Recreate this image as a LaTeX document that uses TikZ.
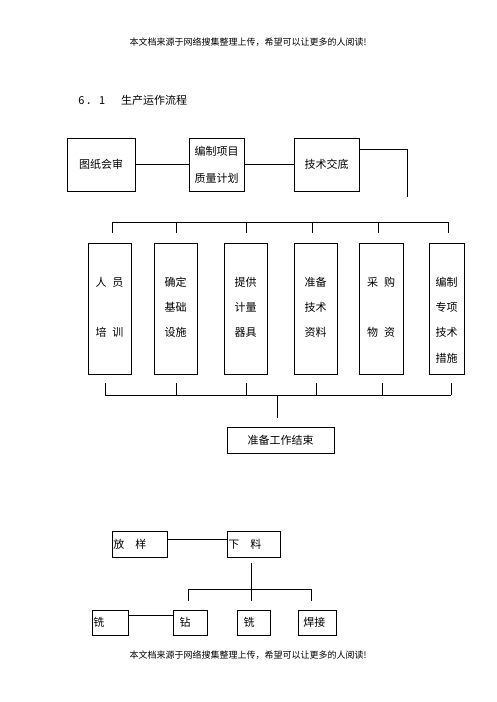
\documentclass[tikz,border=0pt]{standalone}
\usepackage{fontspec}
\newfontfamily\cjk{Noto Sans CJK SC}
\usepackage{tikz}
\usetikzlibrary{calc}

\begin{document}
\begin{tikzpicture}[x=0.75pt, y=-0.75pt, every node/.style={font=\cjk\fontsize{8.25pt}{20pt}\selectfont}, box/.style={rectangle, draw=black, line width=0.6pt}, tall/.style={box, minimum height=98.25pt, inner xsep=0pt, text width=24pt, align=center, text height=7pt, text depth=40.75pt, font=\cjk\fontsize{8.25pt}{19pt}\selectfont}, sbox/.style={box, inner xsep=1pt, text width=#1, align=left}, ln/.style={line width=0.6pt}]
\useasboundingbox (0,0) rectangle (496,702);
\node (hdr) at (248,42) [font=\cjk\fontsize{6.75pt}{8pt}\selectfont] {本文档来源于网络搜集整理上传，希望可以让更多的人阅读!};
\node (ftr) at (248,655) [font=\cjk\fontsize{6.75pt}{8pt}\selectfont] {本文档来源于网络搜集整理上传，希望可以让更多的人阅读!};
\node[anchor=west, inner sep=0pt] (ttl) at (78,100) {6\,．\,1\hspace{12pt}生产运作流程};
\node[box, minimum width=51pt, minimum height=39.75pt] (tzhs) at (101,164.5) {图纸会审};
\node[box, minimum width=41.25pt, minimum height=39.75pt, align=center] (bzjh) at (216.5,164.5) {编制项目\\质量计划};
\node[box, minimum width=48.75pt, minimum height=39.75pt] (jsjd) at (326.5,164.5) {技术交底};
\coordinate (drop) at (407,197);
\draw[ln] (tzhs) -- (bzjh); \draw[ln] (bzjh) -- (jsjd);
\draw[ln] ([yshift=11pt]jsjd.east) -| (drop);
\coordinate (tbus) at (0,222);
\coordinate (bbus) at (0,395);
\node[tall, minimum width=32.25pt] (rypx) at (109.5,308.5) {人\hspace{4.5pt}员\\\mbox{}\\培\hspace{4.5pt}训};
\node[tall, minimum width=32.25pt] (qdss) at (175.5,308.5) {确定\\基础\\设施};
\node[tall, minimum width=32.25pt] (tgjl) at (245.5,308.5) {提供\\计量\\器具};
\node[tall, minimum width=32.25pt] (zbzl) at (315.5,308.5) {准备\\技术\\资料};
\node[tall, minimum width=33pt] (cgwz) at (381,308.5) {采\hspace{4.5pt}购\\\mbox{}\\物\hspace{4.5pt}资};
\node[tall, minimum width=26.25pt] (bzcs) at (446.5,308.5) {编制\\专项\\技术\\措施};
\foreach \n/\a/\b in {rypx/2.5/-4.5, qdss/0.5/0.5, tgjl/0.5/0.5, zbzl/-3.5/0.5, cgwz/-3/1, bzcs/1.5/4.5} {
  \draw[ln] ($(\n.north)+(\a,-10)$) -- ($(\n.north |- tbus)+(\a,0)$);
  \draw[ln] ($(\n.south)+(\b,9)$) -- ($(\n.south |- bbus)+(\b,0)$);
}
\draw[ln] ($(rypx.north |- tbus)+(2.5,0)$) -- ($(bzcs.north |- tbus)+(1.5,0)$);
\draw[ln] ($(rypx.south |- bbus)+(-4.5,0)$) -- ($(bzcs.south |- bbus)+(4.5,0)$);
\node[box, minimum width=80.25pt, minimum height=19.5pt] (jsgz) at (280.5,440) {准备工作结束};
\draw[ln] ($(jsgz.north)+(-3.5,-9)$) -- ($(jsgz.north |- bbus)+(-3.5,0)$);
\node[sbox=39.25pt, minimum height=19.5pt] (fy) at (139.5,544) {放　样};
\node[sbox=37.75pt, minimum height=19.5pt] (xl) at (253.5,544) {下　料};
\draw[ln] ($(fy.east)+(0,-5)$) -- ($(xl.west)+(0,-5)$);
\coordinate (sbus) at (0,589);
\node[sbox=25pt, minimum height=18.75pt] (xa) at (110,622.5) {铣};
\node[sbox=23.5pt, minimum height=18.75pt] (zk) at (190,622.5) {\hspace{4pt}钻};
\node[sbox=22.75pt, minimum height=18.75pt] (xb) at (253.5,622.5) {\hspace{4pt}铣};
\node[sbox=26.5pt, minimum height=18.75pt] (hj) at (317,622.5) {\hspace{3pt}焊接};
\draw[ln] ($(xl.south)+(-2.5,6)$) -- ($(xl.south |- sbus)+(-2.5,0)$);
\draw[ln] ($(zk.north |- sbus)+(-2,0)$) -- ($(hj.north |- sbus)+(-6,0)$);
\foreach \n/\a in {zk/-2, xb/-2.5, hj/-6}
  \draw[ln] ($(\n.north |- sbus)+(\a,0)$) -- ($(\n.north)+(\a,-9)$);
\draw[ln] ($(xa.east)+(0,-7.5)$) -- ($(zk.west)+(0,-7.5)$);
\end{tikzpicture}
\end{document}
